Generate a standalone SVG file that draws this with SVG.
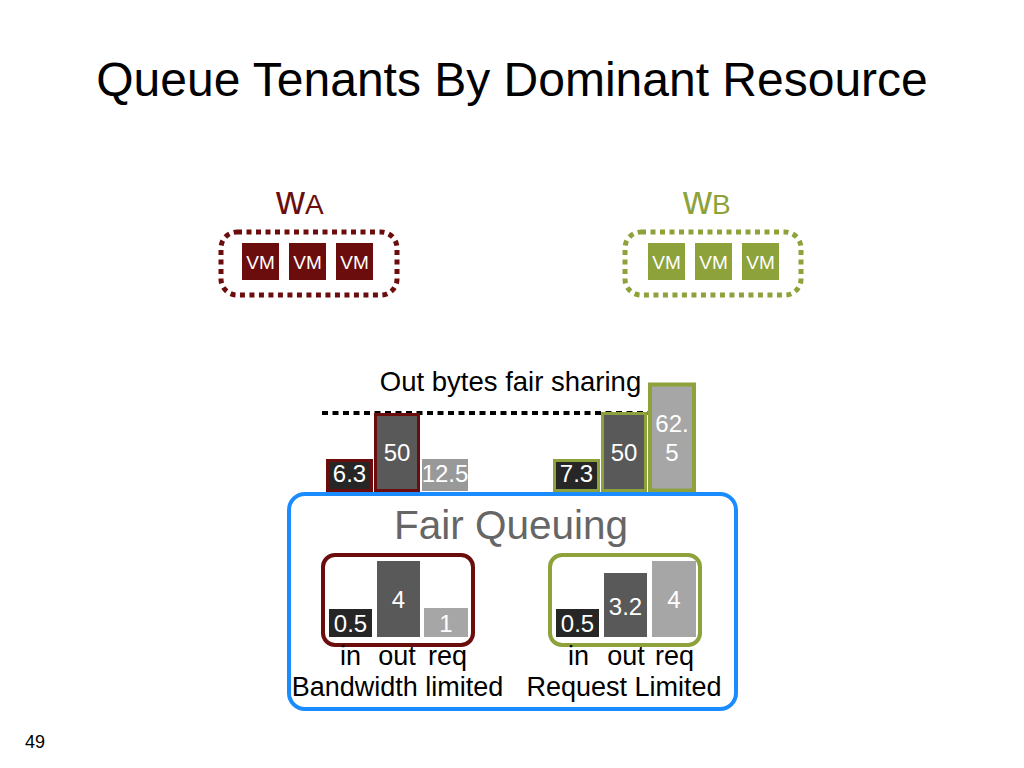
<svg xmlns="http://www.w3.org/2000/svg" width="1024" height="768" viewBox="0 0 1024 768">
<style>
text{font-family:"Liberation Sans",Arial,sans-serif}
.vmA{fill:#6B0D0D}
.vmB{fill:#8DA23A}
.vmt{fill:#fff;font-size:19px;text-anchor:middle}
.bl{fill:#fff;font-size:24px;text-anchor:middle}
.lab{fill:#000;font-size:27px;text-anchor:middle}
.d1{fill:#262626}
.d2{fill:#595959}
.d3{fill:#a6a6a6}
</style>
<rect width="1024" height="768" fill="#fff"/>
<text x="512" y="96" font-size="48" text-anchor="middle" fill="#000">Queue Tenants By Dominant Resource</text>

<g id="tenantA">
<text x="276" y="214" font-size="40" fill="#6B0D0D">w<tspan font-size="28">A</tspan></text>
<rect x="221" y="232" width="176" height="63" rx="16" fill="none" stroke="#6B0D0D" stroke-width="5" stroke-dasharray="5 4.5"/>
<rect class="vmA" x="242" y="243" width="37" height="37"/><text class="vmt" x="260.5" y="269">VM</text>
<rect class="vmA" x="289" y="243" width="37" height="37"/><text class="vmt" x="307.5" y="269">VM</text>
<rect class="vmA" x="336" y="243" width="37" height="37"/><text class="vmt" x="354.5" y="269">VM</text>
</g>

<g id="tenantB">
<text x="683" y="214" font-size="40" fill="#8DA23A">w<tspan font-size="28">B</tspan></text>
<rect x="625" y="232" width="176" height="63" rx="16" fill="none" stroke="#8DA23A" stroke-width="5" stroke-dasharray="5 4.5"/>
<rect class="vmB" x="648" y="243" width="37" height="37"/><text class="vmt" x="666.5" y="269">VM</text>
<rect class="vmB" x="695" y="243" width="37" height="37"/><text class="vmt" x="713.5" y="269">VM</text>
<rect class="vmB" x="742" y="243" width="37" height="37"/><text class="vmt" x="760.5" y="269">VM</text>
</g>

<g id="outbytes">
<text x="510.5" y="391" font-size="27.5" text-anchor="middle" fill="#000">Out bytes fair sharing</text>
<line x1="322" y1="413" x2="700" y2="413" stroke="#000" stroke-width="4" stroke-dasharray="6 4.5"/>
<rect class="d1" x="327.5" y="460.5" width="44" height="30" stroke="#6B0D0D" stroke-width="3"/>
<text class="bl" x="349.5" y="482">6.3</text>
<rect class="d2" x="375.5" y="414.5" width="43" height="76" stroke="#6B0D0D" stroke-width="3"/>
<text class="bl" x="397" y="461">50</text>
<rect x="422" y="459" width="46" height="32" fill="#999"/>
<text class="bl" x="445" y="482">12.5</text>
<rect class="d1" x="554.5" y="460.5" width="44" height="30" stroke="#8DA23A" stroke-width="3"/>
<text class="bl" x="576.5" y="482">7.3</text>
<rect class="d2" x="602.5" y="413.5" width="43" height="77" stroke="#8DA23A" stroke-width="3"/>
<text class="bl" x="624" y="461">50</text>
<rect class="d3" x="650" y="384.5" width="44" height="106" stroke="#8DA23A" stroke-width="4"/>
<text class="bl" x="672" y="432">62.</text>
<text class="bl" x="672" y="461">5</text>
</g>

<g id="fairQueuing">
<rect x="289" y="494" width="447" height="215" rx="16" fill="none" stroke="#1A8CFF" stroke-width="4"/>
<text x="511" y="539" font-size="40.5" text-anchor="middle" fill="#666">Fair Queuing</text>
</g>

<g id="queueA">
<rect x="323" y="555" width="150" height="90" rx="12" fill="none" stroke="#6B0D0D" stroke-width="4"/>
<rect class="d1" x="329" y="609" width="43" height="28"/>
<text class="bl" x="350.5" y="632">0.5</text>
<rect class="d2" x="377" y="561" width="43" height="76"/>
<text class="bl" x="398.5" y="608">4</text>
<rect class="d3" x="424" y="608" width="44" height="29"/>
<text class="bl" x="446" y="632">1</text>
<text class="lab" x="350.5" y="665">in</text>
<text class="lab" x="397" y="665">out</text>
<text class="lab" x="447.5" y="665">req</text>
<text class="lab" x="397.5" y="696">Bandwidth limited</text>
</g>

<g id="queueB">
<rect x="550" y="555" width="150" height="90" rx="12" fill="none" stroke="#8DA23A" stroke-width="4"/>
<rect class="d1" x="556" y="609" width="43" height="28"/>
<text class="bl" x="577.5" y="632">0.5</text>
<rect class="d2" x="604" y="573" width="43" height="64"/>
<text class="bl" x="625.5" y="615">3.2</text>
<rect class="d3" x="652" y="561" width="44" height="76"/>
<text class="bl" x="674" y="608">4</text>
<text class="lab" x="578.5" y="665">in</text>
<text class="lab" x="626" y="665">out</text>
<text class="lab" x="674.5" y="665">req</text>
<text class="lab" x="624" y="696">Request Limited</text>
</g>

<text x="25" y="748" font-size="18" fill="#000">49</text>
</svg>
